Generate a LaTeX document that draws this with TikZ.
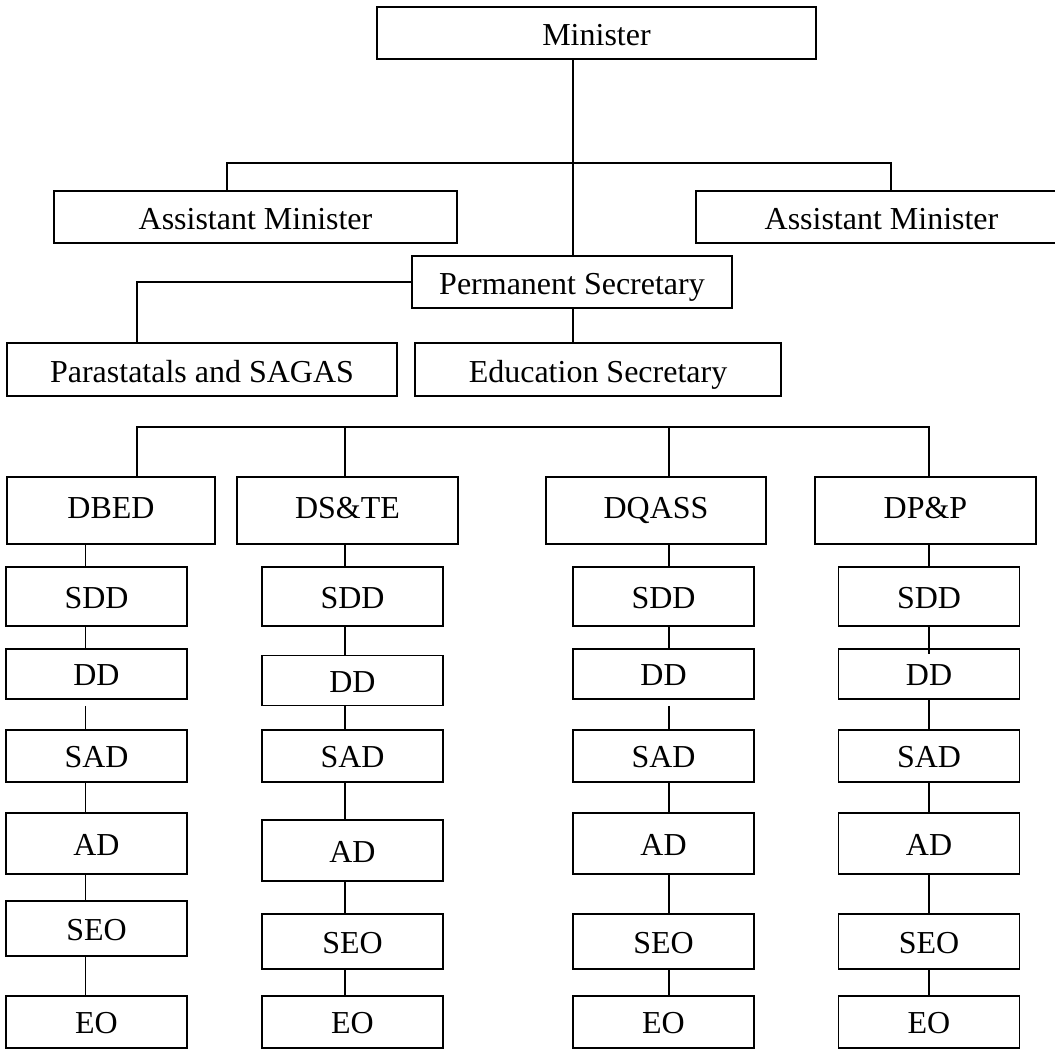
\documentclass[tikz,border=0pt]{standalone}
\usepackage{fontspec}
\setmainfont{Liberation Serif}
\usepackage{tikz}
\usetikzlibrary{positioning}

\begin{document}
\begin{tikzpicture}[
  box/.style={draw, line width=1pt, minimum height=1.04cm, inner sep=0pt,
              text height=0.50cm, text depth=0pt,
              font=\fontsize{18.2pt}{22pt}\selectfont, align=center},
  dbox/.style={box, minimum width=4.40cm, minimum height=1.34cm,
               text height=0.42cm, text depth=0.12cm},
  sbox/.style={box, minimum width=3.62cm, text height=0.46cm},
  link/.style={line width=0.65pt}
]
\useasboundingbox (0,0) rectangle (21.1,-20.98);

%% Top levels
\node[box, minimum width=8.78cm] (minister) at (11.93,-0.66) {Minister};
\node[box, minimum width=8.06cm] (asstl) at (5.11,-4.34) {Assistant Minister};
\node[box, minimum width=7.42cm] (asstr) at (17.63,-4.34) {Assistant Minister};
\node[box, minimum width=6.40cm] (permsec) at (11.44,-5.64) {Permanent Secretary};
\node[box, minimum width=7.80cm, minimum height=1.06cm] (para) at (4.04,-7.39) {Parastatals and SAGAS};
\node[box, minimum width=7.32cm, minimum height=1.06cm] (edusec) at (11.96,-7.39) {Education Secretary};

%% Branch points
\coordinate (mv) at (11.46,-3.26);
\coordinate (t1) at (4.54,-3.26);
\coordinate (t2) at (17.82,-3.26);
\coordinate (b1) at (2.74,-8.54);
\coordinate (b2) at (6.90,-8.54);
\coordinate (b3) at (13.38,-8.54);
\coordinate (b4) at (18.58,-8.54);
\coordinate (c1) at (1.71,-8.54);

\draw[link] (mv |- minister.south) -- (mv |- permsec.north);
\draw[link] (t1 |- asstl.north) -- (t1) -- (t2) -- (t2 |- asstr.north);
\draw[link] (permsec.west) -- (permsec.west -| b1) -- (b1 |- para.north);
\draw[link] (mv |- permsec.south) -- (mv |- edusec.north);

%% Directorates
\node[dbox, minimum width=4.16cm] (dbed) at (2.22,-10.21) {DBED};
\node[dbox, minimum width=4.42cm] (dste) at (6.95,-10.21) {DS\&TE};
\node[dbox] (dqass) at (13.12,-10.21) {DQASS};
\node[dbox, minimum width=4.42cm] (dpp) at (18.51,-10.21) {DP\&P};

\draw[link] (b1 |- dbed.north) -- (b1) -- (b4) -- (b4 |- dpp.north);
\draw[link] (b2) -- (b2 |- dste.north);
\draw[link] (b3) -- (b3 |- dqass.north);

%% Column 1
\node[sbox, minimum height=1.18cm] (sdd1) at (1.93,-11.93) {SDD};
\node[sbox, minimum height=1.00cm] (dd1) at (1.93,-13.48) {DD};
\node[sbox] (sad1) at (1.93,-15.12) {SAD};
\node[sbox, minimum height=1.22cm] (ad1) at (1.93,-16.87) {AD};
\node[sbox, minimum height=1.10cm] (seo1) at (1.93,-18.57) {SEO};
\node[sbox] (eo1) at (1.93,-20.44) {EO};
\draw[link] (c1 |- dbed.south) -- (c1 |- sdd1.north)
            (c1 |- sdd1.south) -- (c1 |- dd1.north)
            ([yshift=-0.12cm]dd1.south -| c1) -- (c1 |- sad1.north)
            (c1 |- sad1.south) -- (c1 |- ad1.north)
            (c1 |- ad1.south) -- (c1 |- seo1.north)
            (c1 |- seo1.south) -- (c1 |- eo1.north);

%% Column 2
\node[sbox, minimum height=1.18cm] (sdd2) at (7.05,-11.93) {SDD};
\node[sbox, minimum height=1.00cm] (dd2) at (7.05,-13.61) {DD};
\node[sbox] (sad2) at (7.05,-15.12) {SAD};
\node[sbox, minimum height=1.22cm] (ad2) at (7.05,-17.01) {AD};
\node[sbox, minimum height=1.10cm] (seo2) at (7.05,-18.83) {SEO};
\node[sbox] (eo2) at (7.05,-20.44) {EO};
\draw[link] (b2 |- dste.south) -- (b2 |- sdd2.north)
            (b2 |- sdd2.south) -- (b2 |- dd2.north)
            (b2 |- dd2.south) -- (b2 |- sad2.north)
            (b2 |- sad2.south) -- (b2 |- ad2.north)
            (b2 |- ad2.south) -- (b2 |- seo2.north)
            (b2 |- seo2.south) -- (b2 |- eo2.north);

%% Column 3
\node[sbox, minimum height=1.18cm] (sdd3) at (13.27,-11.93) {SDD};
\node[sbox, minimum height=1.00cm] (dd3) at (13.27,-13.48) {DD};
\node[sbox] (sad3) at (13.27,-15.12) {SAD};
\node[sbox, minimum height=1.22cm] (ad3) at (13.27,-16.87) {AD};
\node[sbox, minimum height=1.10cm] (seo3) at (13.27,-18.83) {SEO};
\node[sbox] (eo3) at (13.27,-20.44) {EO};
\draw[link] (b3 |- dqass.south) -- (b3 |- sdd3.north)
            (b3 |- sdd3.south) -- (b3 |- dd3.north)
            ([yshift=-0.12cm]dd3.south -| b3) -- (b3 |- sad3.north)
            (b3 |- sad3.south) -- (b3 |- ad3.north)
            (b3 |- ad3.south) -- (b3 |- seo3.north)
            (b3 |- seo3.south) -- (b3 |- eo3.north);

%% Column 4
\node[sbox, minimum height=1.18cm] (sdd4) at (18.58,-11.93) {SDD};
\node[sbox, minimum height=1.00cm] (dd4) at (18.58,-13.48) {DD};
\node[sbox] (sad4) at (18.58,-15.12) {SAD};
\node[sbox, minimum height=1.22cm] (ad4) at (18.58,-16.87) {AD};
\node[sbox, minimum height=1.10cm] (seo4) at (18.58,-18.83) {SEO};
\node[sbox] (eo4) at (18.58,-20.44) {EO};
\draw[link] (b4 |- dpp.south) -- (b4 |- sdd4.north)
            (b4 |- sdd4.south) -- ([yshift=-0.12cm]dd4.north -| b4)
            (b4 |- dd4.south) -- (b4 |- sad4.north)
            (b4 |- sad4.south) -- (b4 |- ad4.north)
            (b4 |- ad4.south) -- (b4 |- seo4.north)
            (b4 |- seo4.south) -- (b4 |- eo4.north);
\end{tikzpicture}
\end{document}
